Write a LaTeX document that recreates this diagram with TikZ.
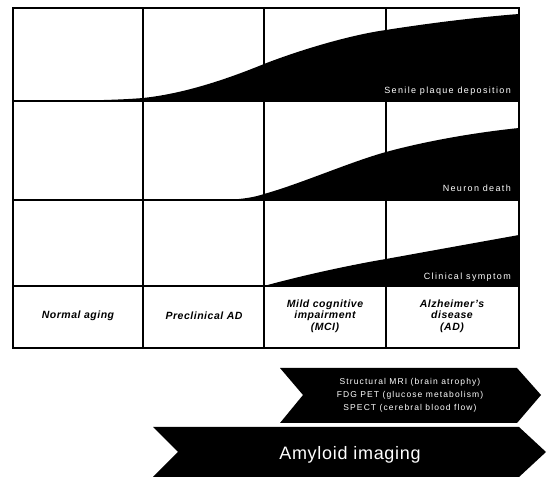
\documentclass[tikz,border=0pt]{standalone}
\usepackage{fontspec}
\setmainfont{Liberation Sans}
\tikzset{
  stage/.style={font=\fontsize{10.5}{11.5}\selectfont\bfseries\itshape\addfontfeature{LetterSpace=5},align=center},
  curvelbl/.style={font=\fontsize{9}{10}\selectfont\addfontfeature{LetterSpace=15},text=white,anchor=east,inner sep=0pt},
  imgtxt/.style={font=\fontsize{8.5}{13}\selectfont\addfontfeature{LetterSpace=13},text=white,align=center}
}
\begin{document}
\begin{tikzpicture}[x=1pt,y=-1pt]
\useasboundingbox (0,0) rectangle (550,478);
% grid
\foreach \x in {143,264,386}
{
    \draw[line width=1.2pt](\x,8)--(\x,348);
}
\foreach \y in {101,200,286}
{
    \draw[line width=1.2pt](13,\y)--(519,\y);
}
% curves
\fill (13,101) .. controls (80,101) and (120,100) .. (143,98) .. controls (180,94) and (220,82) .. (264,64) .. controls (300,50) and (350,35) .. (386,30) .. controls (430,23) and (480,17) .. (519,14) -- (519,101) -- cycle;
\fill (225,200) .. controls (245,199) and (255,197) .. (264,194) .. controls (300,184) and (350,162) .. (386,152) .. controls (430,140) and (480,132) .. (519,128) -- (519,200) -- cycle;
\fill (264,286) .. controls (300,276) and (350,265) .. (386,259) .. controls (430,251) and (480,242) .. (519,235) -- (519,286) -- cycle;
\draw[line width=2.2pt](13,8)rectangle(519,348);
\node[curvelbl] (senile) at (511,91) {Senile plaque deposition};
\node[curvelbl] (neuron) at (511,188) {Neuron death};
\node[curvelbl] (clinical) at (511,277) {Clinical symptom};
% stages
\node[stage] (normal) at (78,316) {Normal aging};
\node[stage] (preclin) at (204,316) {Preclinical AD};
\node[stage] (mci) at (325,316) {Mild cognitive\\impairment\\(MCI)};
\node[stage] (ad) at (452,316) {Alzheimer's\\disease\\(AD)};
% imaging arrows
\fill (280,368) -- (517,368) -- (541,395) -- (517,423) -- (280,423) -- (303,395) -- cycle;
\node[imgtxt] (mri) at (410,395) {Structural MRI (brain atrophy)\\FDG PET (glucose metabolism)\\SPECT (cerebral blood flow)};
\fill (153,427) -- (519,427) -- (546,452) -- (519,477) -- (153,477) -- (178,452) -- cycle;
\node[font=\fontsize{18}{20}\selectfont\addfontfeature{LetterSpace=4},text=white] (amyloid) at (350,455) {Amyloid imaging};
\end{tikzpicture}
\end{document}
